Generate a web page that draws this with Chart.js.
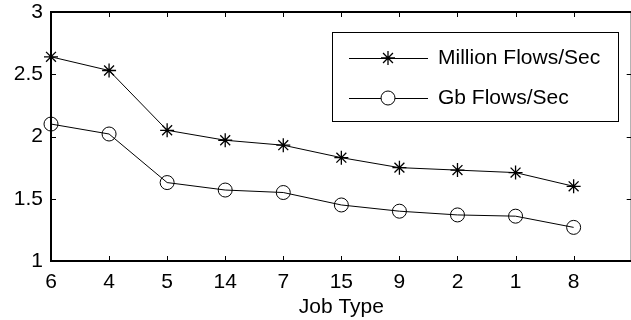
<!DOCTYPE html>
<html>
<head>
<meta charset="utf-8">
<script src="https://cdn.jsdelivr.net/npm/chart.js@4/dist/chart.umd.min.js"></script>
<style>
  html, body { margin: 0; padding: 0; background: #fff; overflow: hidden; }
  #wrap { width: 640px; height: 320px; }
</style>
</head>
<body>
<div id="wrap"><canvas id="c" width="640" height="320"></canvas></div>
<script>
const jobTypes = ['6', '4', '5', '14', '7', '15', '9', '2', '1', '8'];
const millionFlows = [2.64, 2.53, 2.05, 1.97, 1.93, 1.83, 1.75, 1.73, 1.71, 1.60];
const gbFlows = [2.10, 2.02, 1.63, 1.57, 1.55, 1.45, 1.40, 1.37, 1.36, 1.27];
const yTicks = [1, 1.5, 2, 2.5, 3];
const seriesNames = ['Million Flows/Sec', 'Gb Flows/Sec'];
const xTitle = 'Job Type';

const FONT = "'Liberation Sans', Arial, Helvetica, sans-serif";
const FS = 21;

const toPoints = arr => arr.map((v, i) => ({ x: i, y: v }));

const framePlugin = {
  id: 'frame',
  beforeDatasetsDraw(chart) {
    const { ctx, chartArea: a, scales: { x, y } } = chart;
    ctx.save();
    ctx.strokeStyle = '#000';
    ctx.lineWidth = 1;
    const tl = 5;
    ctx.beginPath();
    jobTypes.forEach((_, i) => {
      const px = Math.round(x.getPixelForValue(i)) + 0.5;
      ctx.moveTo(px, a.bottom); ctx.lineTo(px, a.bottom - tl);
      ctx.moveTo(px, a.top); ctx.lineTo(px, a.top + tl);
    });
    yTicks.forEach(v => {
      const py = Math.round(y.getPixelForValue(v)) + 0.5;
      ctx.moveTo(a.left, py); ctx.lineTo(a.left + tl, py);
      ctx.moveTo(a.right, py); ctx.lineTo(a.right - tl, py);
    });
    ctx.stroke();
    ctx.lineWidth = 2;
    ctx.strokeRect(a.left, a.top, a.right - a.left, a.bottom - a.top);
    ctx.restore();
  }
};

const legendPlugin = {
  id: 'boxLegend',
  afterDatasetsDraw(chart) {
    const { ctx, chartArea: a } = chart;
    const left = a.left + 281, top = a.top + 20, w = 286, h = 89;
    ctx.save();
    ctx.fillStyle = '#fff';
    ctx.fillRect(left, top, w, h);
    ctx.strokeStyle = '#000';
    ctx.lineWidth = 1;
    ctx.strokeRect(left + 0.5, top + 0.5, w, h);
    ctx.font = FS + 'px ' + FONT;
    ctx.textBaseline = 'middle';
    ctx.textAlign = 'left';
    chart.data.datasets.forEach((ds, i) => {
      const cy = top + 26 + i * 40;
      ctx.beginPath();
      ctx.moveTo(left + 17, cy + 0.5);
      ctx.lineTo(left + 96, cy + 0.5);
      ctx.lineWidth = 1;
      ctx.strokeStyle = '#000';
      ctx.stroke();
      ctx.fillStyle = '#fff';
      ctx.lineWidth = ds.pointBorderWidth;
      Chart.helpers.drawPoint(ctx, {
        pointStyle: ds.pointStyle, radius: ds.pointRadius, borderWidth: ds.pointBorderWidth, rotation: 0
      }, left + 56, cy);
      ctx.fillStyle = '#000';
      ctx.fillText(ds.label, left + 106, cy);
    });
    ctx.restore();
  }
};

const zeroPad = s => { s.paddingTop = 0; s.paddingBottom = 0; s.paddingLeft = 0; s.paddingRight = 0; };

new Chart(document.getElementById('c'), {
  type: 'line',
  data: {
    datasets: [
      {
        label: seriesNames[0], data: toPoints(millionFlows),
        borderColor: '#000', backgroundColor: 'rgba(0,0,0,0)', borderWidth: 1,
        pointStyle: 'star', pointRadius: 7, pointBorderWidth: 1.3,
        pointBorderColor: '#000', pointBackgroundColor: 'rgba(0,0,0,0)', clip: false
      },
      {
        label: seriesNames[1], data: toPoints(gbFlows),
        borderColor: '#000', backgroundColor: 'rgba(0,0,0,0)', borderWidth: 1,
        pointStyle: 'circle', pointRadius: 7, pointBorderWidth: 1,
        pointBorderColor: '#000', pointBackgroundColor: 'rgba(0,0,0,0)', clip: false
      }
    ]
  },
  options: {
    responsive: false,
    animation: false,
    events: [],
    layout: { padding: { top: 12, right: 6, left: 0, bottom: 0 } },
    plugins: { legend: { display: false }, tooltip: { enabled: false } },
    scales: {
      x: {
        type: 'linear', min: 0, max: 10,
        grid: { display: false, drawTicks: false },
        border: { display: false },
        afterBuildTicks: s => { s.ticks = jobTypes.map((_, i) => ({ value: i })); },
        afterFit: s => { s.height = 59; zeroPad(s); },
        ticks: {
          autoSkip: false, maxRotation: 0, padding: 9,
          color: '#000', font: { family: FONT, size: FS },
          callback: v => jobTypes[v] ?? ''
        },
        title: {
          display: true, text: xTitle, color: '#000',
          font: { family: FONT, size: FS }, padding: { top: 0, bottom: 0 }
        }
      },
      y: {
        type: 'linear', min: 1, max: 3,
        grid: { display: false, drawTicks: false },
        border: { display: false },
        afterBuildTicks: s => { s.ticks = yTicks.map(v => ({ value: v })); },
        afterFit: s => { s.width = 51; zeroPad(s); },
        ticks: {
          padding: 8, color: '#000', font: { family: FONT, size: FS },
          callback: v => String(v)
        }
      }
    }
  },
  plugins: [framePlugin, legendPlugin]
});
</script>
</body>
</html>
